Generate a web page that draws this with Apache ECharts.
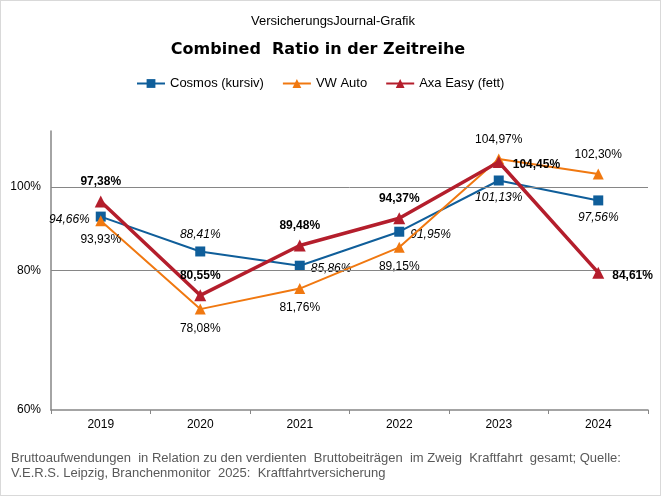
<!DOCTYPE html>
<html>
<head>
<meta charset="utf-8">
<script src="https://cdn.jsdelivr.net/npm/echarts@6.0.0/dist/echarts.min.js"></script>
<style>
html, body { margin: 0; padding: 0; background: #fff; }
#chart { width: 661px; height: 496px; box-sizing: border-box; border: 1px solid #d9d9d9; }
</style>
</head>
<body>
<div id="chart"></div>
<script>
var years = ['2019', '2020', '2021', '2022', '2023', '2024'];
var cosmos = [94.66, 88.41, 85.86, 91.95, 101.13, 97.56];
var vwAuto = [93.93, 78.08, 81.76, 89.15, 104.97, 102.30];
var axaEasy = [97.38, 80.55, 89.48, 94.37, 104.45, 84.61];
// label placement per point, as in the original
var cosmosPos = ['left', 'top', 'right', 'right', 'bottom', 'bottom'];
var vwPos = ['bottom', 'bottom', 'bottom', 'bottom', 'top', 'top'];
var axaPos = ['top', 'top', 'top', 'top', 'right', 'right'];
var yTickValues = [60, 85, 100];
var yTickLabels = ['60%', '80%', '100%'];

var font = '"Liberation Sans", Arial, sans-serif';

function pct(v) {
    return v.toFixed(2).replace('.', ',') + '%';
}

function points(values, pos) {
    return values.map(function(v, i) {
        var lab = {position: pos[i]};
        if (pos[i] == 'right' || pos[i] == 'left') lab.offset = [0, 3];
        return {value: v, label: lab};
    });
}

var myChart = echarts.init(document.getElementById('chart'));
myChart.setOption({
    animation: false,
    textStyle: {fontFamily: font},
    title: [{
        text: 'VersicherungsJournal-Grafik',
        left: 327, top: 9, textAlign: 'center',
        textStyle: {fontSize: 13, fontWeight: 'normal', color: '#000', fontFamily: font}
    }, {
        text: 'Combined  Ratio in der Zeitreihe',
        left: 312, top: 36, textAlign: 'center',
        textStyle: {fontSize: 16, fontWeight: 'bold', color: '#000', fontFamily: '"DejaVu Sans", sans-serif'}
    }, {
        text: 'Bruttoaufwendungen  in Relation zu den verdienten  Bruttobeiträgen  im Zweig  Kraftfahrt  gesamt; Quelle:\nV.E.R.S. Leipzig, Branchenmonitor  2025:  Kraftfahrtversicherung',
        left: 5, top: 445,
        textStyle: {fontSize: 13, fontWeight: 'normal', color: '#595959', lineHeight: 15, fontFamily: font}
    }],
    legend: {
        top: 71, left: 130,
        itemWidth: 28, itemHeight: 11, itemGap: 18,
        textStyle: {fontSize: 13, color: '#000', fontFamily: font},
        data: ['Cosmos (kursiv)', 'VW Auto', 'Axa Easy (fett)']
    },
    grid: {left: 50, right: 12, top: 130, bottom: 85},
    xAxis: {
        type: 'category',
        data: years,
        boundaryGap: true,
        axisLine: {lineStyle: {color: '#868686', width: 1.5}},
        axisTick: {show: true, length: 4, lineStyle: {color: '#868686'}},
        axisLabel: {fontSize: 12, color: '#000', margin: 9}
    },
    yAxis: {
        type: 'value',
        min: 60, max: 110,
        axisLine: {show: true, lineStyle: {color: '#868686', width: 1.5}},
        axisTick: {show: false},
        splitLine: {show: false},
        axisLabel: {
            fontSize: 12, color: '#000', margin: 10,
            customValues: yTickValues,
            formatter: function(v) {
                var i = yTickValues.indexOf(v);
                return i >= 0 ? yTickLabels[i] : '';
            }
        }
    },
    series: [{
        name: 'Cosmos (kursiv)',
        type: 'line',
        data: points(cosmos, cosmosPos),
        symbol: 'rect', symbolSize: 10,
        lineStyle: {width: 2, color: '#0f5e9a'},
        itemStyle: {color: '#0f5e9a'},
        label: {show: true, fontSize: 12, fontStyle: 'italic', color: '#000', distance: 6,
            formatter: function(p) { return pct(p.value); }},
        markLine: {
            silent: true, symbol: 'none', label: {show: false},
            lineStyle: {color: '#868686', type: 'solid', width: 1},
            data: [{yAxis: 85}, {yAxis: 100}]
        },
        z: 3
    }, {
        name: 'VW Auto',
        type: 'line',
        data: points(vwAuto, vwPos),
        symbol: 'triangle', symbolSize: 11,
        lineStyle: {width: 2, color: '#f07810'},
        itemStyle: {color: '#f07810'},
        label: {show: true, fontSize: 12, color: '#000', distance: 8,
            formatter: function(p) { return pct(p.value); }},
        z: 4
    }, {
        name: 'Axa Easy (fett)',
        type: 'line',
        data: points(axaEasy, axaPos),
        symbol: 'triangle', symbolSize: 12,
        lineStyle: {width: 3.5, color: '#b41e2c'},
        itemStyle: {color: '#b41e2c'},
        label: {show: true, fontSize: 12, fontWeight: 'bold', color: '#000', distance: 8,
            formatter: function(p) { return pct(p.value); }},
        z: 5
    }]
});
</script>
</body>
</html>
